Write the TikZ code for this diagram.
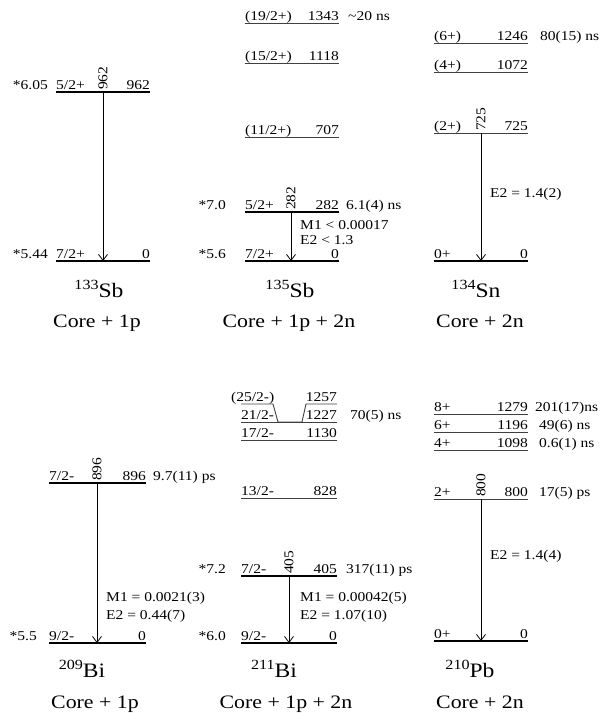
\documentclass[tikz,border=0pt]{standalone}
\usepackage{fontspec}
\setmainfont{Liberation Serif}[FakeStretch=1.15]
\usetikzlibrary{arrows.meta}
\newcommand\lev[7]{% name,x1,x2,y,spin,energy,style
  \coordinate (#1L) at (#2,#4);
  \coordinate (#1R) at (#3,#4);
  \draw[#7] (#1L) -- (#1R);
  \node[spinlab] (#1s) at ([yshift=3pt]#1L) {#5};
  \node[enlab] (#1e) at ([yshift=3pt]#1R) {#6};
}
\newcommand\isot[2]{\raisebox{7.5pt}{\fontsize{14}{16}\selectfont #1}#2}
\begin{document}
\begin{tikzpicture}[x=1pt,y=-1pt,
  every node/.style={inner sep=0pt, font=\fontsize{13.5}{15}\selectfont},
  thinlev/.style={line width=0.9pt, draw=black!75},
  thicklev/.style={line width=2pt},
  spinlab/.style={anchor=base west},
  enlab/.style={anchor=base east},
  starlab/.style={anchor=base east},
  sidelab/.style={anchor=base west},
  gammalab/.style={rotate=90, anchor=west, inner xsep=2pt},
  trans/.style={line width=0.8pt, -{Straight Barb[length=6pt,width=9pt]}},
  nuc/.style={anchor=base, font=\fontsize{20.5}{22}\selectfont},
  corelab/.style={anchor=base, font=\fontsize{19}{21}\selectfont},
]
\useasboundingbox (0,0) rectangle (610,713);

% ---------- 133Sb ----------
\lev{sbA1}{56}{150}{92}{5/2+}{962}{thicklev}
\lev{sbA0}{56}{150}{261}{7/2+}{0}{thicklev}
\node[starlab] (sbA1st) at (48,89) {*6.05};
\node[starlab] (sbA0st) at (48,258) {*5.44};
\coordinate (tA1) at (103,92);
\coordinate (tA0) at (103,261);
\draw[trans] (tA1) -- (tA0);
\node[gammalab] (gA) at (tA1) {962};
\node[nuc] (nucA) at (99,297) {\isot{133}{Sb}};
\node[corelab] (coreA) at (97,327) {Core + 1p};

% ---------- 135Sb ----------
\lev{sbB4}{245}{339}{23}{(19/2+)}{1343}{thinlev}
\lev{sbB3}{245}{339}{63}{(15/2+)}{1118}{thinlev}
\lev{sbB2}{245}{339}{137}{(11/2+)}{707}{thinlev}
\lev{sbB1}{245}{339}{212}{5/2+}{282}{thicklev}
\lev{sbB0}{245}{339}{261}{7/2+}{0}{thicklev}
\node[sidelab] (tauB4) at (348,20) {\textasciitilde20 ns};
\node[sidelab] (tauB1) at (346,209) {6.1(4) ns};
\node[starlab] (sbB1st) at (226,209) {*7.0};
\node[starlab] (sbB0st) at (226,258) {*5.6};
\coordinate (tB1) at (291,212);
\coordinate (tB0) at (291,261);
\draw[trans] (tB1) -- (tB0);
\node[gammalab] (gB) at (tB1) {282};
\node[sidelab] (mB1) at (300,229) {M1 < 0.00017};
\node[sidelab] (mB2) at (300,244) {E2 < 1.3};
\node[nuc] (nucB) at (290,297) {\isot{135}{Sb}};
\node[corelab] (coreB) at (289,327) {Core + 1p + 2n};

% ---------- 134Sn ----------
\lev{snC3}{434}{528}{43}{(6+)}{1246}{thinlev}
\lev{snC2}{434}{528}{72}{(4+)}{1072}{thinlev}
\lev{snC1}{434}{528}{133}{(2+)}{725}{thinlev}
\lev{snC0}{434}{528}{261}{0+}{0}{thicklev}
\node[sidelab] (tauC3) at (540,40) {80(15) ns};
\coordinate (tC1) at (481,133);
\coordinate (tC0) at (481,261);
\draw[trans] (tC1) -- (tC0);
\node[gammalab] (gC) at (tC1) {725};
\node[sidelab] (mC1) at (490,197) {E2 = 1.4(2)};
\node[nuc] (nucC) at (476,297) {\isot{134}{Sn}};
\node[corelab] (coreC) at (480,327) {Core + 2n};

% ---------- 209Bi ----------
\lev{biD1}{49}{146}{483}{7/2-}{896}{thicklev}
\lev{biD0}{49}{146}{643}{9/2-}{0}{thicklev}
\node[sidelab] (tauD1) at (153,480) {9.7(11) ps};
\node[starlab] (biD0st) at (37,640) {*5.5};
\coordinate (tD1) at (97,483);
\coordinate (tD0) at (97,643);
\draw[trans] (tD1) -- (tD0);
\node[gammalab] (gD) at (tD1) {896};
\node[sidelab] (mD1) at (106,601) {M1 = 0.0021(3)};
\node[sidelab] (mD2) at (106,619) {E2 = 0.44(7)};
\node[nuc] (nucD) at (82,677) {\isot{209}{Bi}};
\node[corelab] (coreD) at (95,708) {Core + 1p};

% ---------- 211Bi ----------
\coordinate (biE6L) at (241,404);
\coordinate (biE6a) at (273,404);
\coordinate (biE6b) at (278,422);
\coordinate (biE6c) at (302,422);
\coordinate (biE6d) at (306,404);
\coordinate (biE6R) at (337,404);
\draw[thinlev] (biE6L) -- (biE6a) -- (biE6b) -- (biE6c) -- (biE6d) -- (biE6R);
\node[spinlab] (biE6s) at (231,401) {(25/2-)};
\node[enlab] (biE6e) at ([yshift=3pt]biE6R) {1257};
\lev{biE5}{241}{337}{422}{21/2-}{1227}{thinlev}
\lev{biE4}{241}{337}{440}{17/2-}{1130}{thinlev}
\lev{biE3}{241}{337}{498}{13/2-}{828}{thinlev}
\lev{biE1}{241}{337}{576}{7/2-}{405}{thicklev}
\lev{biE0}{241}{337}{643}{9/2-}{0}{thicklev}
\node[sidelab] (tauE5) at (350,419) {70(5) ns};
\node[sidelab] (tauE1) at (346,573) {317(11) ps};
\node[starlab] (biE1st) at (226,573) {*7.2};
\node[starlab] (biE0st) at (226,640) {*6.0};
\coordinate (tE1) at (289,576);
\coordinate (tE0) at (289,643);
\draw[trans] (tE1) -- (tE0);
\node[gammalab] (gE) at (tE1) {405};
\node[sidelab] (mE1) at (300,601) {M1 = 0.00042(5)};
\node[sidelab] (mE2) at (300,619) {E2 = 1.07(10)};
\node[nuc] (nucE) at (274,677) {\isot{211}{Bi}};
\node[corelab] (coreE) at (286,708) {Core + 1p + 2n};

% ---------- 210Pb ----------
\lev{pbF4}{434}{528}{414}{8+}{1279}{thinlev}
\lev{pbF3}{434}{528}{432}{6+}{1196}{thinlev}
\lev{pbF2}{434}{528}{450}{4+}{1098}{thinlev}
\lev{pbF1}{434}{528}{499}{2+}{800}{thinlev}
\lev{pbF0}{434}{528}{641}{0+}{0}{thicklev}
\node[sidelab] (tauF4) at (535,411) {201(17)ns};
\node[sidelab] (tauF3) at (539,429) {49(6) ns};
\node[sidelab] (tauF2) at (539,447) {0.6(1) ns};
\node[sidelab] (tauF1) at (539,496) {17(5) ps};
\coordinate (tF1) at (481,499);
\coordinate (tF0) at (481,641);
\draw[trans] (tF1) -- (tF0);
\node[gammalab] (gF) at (tF1) {800};
\node[sidelab] (mF1) at (490,559) {E2 = 1.4(4)};
\node[nuc] (nucF) at (470,677) {\isot{210}{Pb}};
\node[corelab] (coreF) at (480,708) {Core + 2n};
\end{tikzpicture}
\end{document}
